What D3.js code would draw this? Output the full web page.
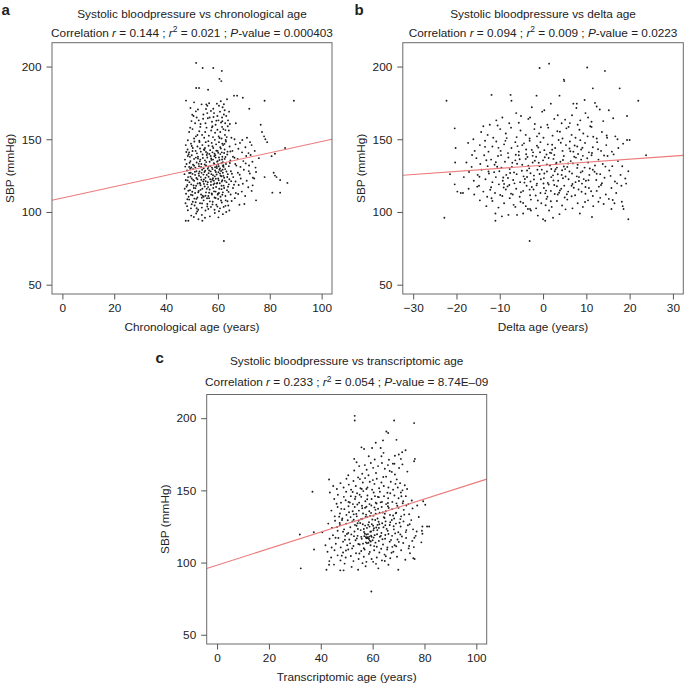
<!DOCTYPE html>
<html>
<head>
<meta charset="utf-8">
<script src="https://cdn.jsdelivr.net/npm/d3@7"></script>
<style>
  html, body { margin: 0; padding: 0; background: #fff; }
  svg { display: block; }
  text { font-family: "Liberation Sans", Arial, Helvetica, sans-serif; fill: #222; }
</style>
</head>
<body>
<svg id="chart" width="685" height="685"></svg>
<script>
// ---------------- DATA ----------------
const xTicksAge = [0, 20, 40, 60, 80, 100];
const xTicksDelta = [-30, -20, -10, 0, 10, 20, 30];
const yTicks = [50, 100, 150, 200];

const panelLabels = ["a", "b", "c"];
const titles = [
  "Systolic bloodpressure vs chronological age",
  "Systolic bloodpressure vs delta age",
  "Systolic bloodpressure vs transcriptomic age"
];
const xTitles = ["Chronological age (years)", "Delta age (years)", "Transcriptomic age (years)"];
const yTitle = "SBP (mmHg)";
const corrR = ["0.144", "0.094", "0.233"];
const corrR2 = ["0.021", "0.009", "0.054"];
const corrP = ["0.000403", "0.0223", "8.74E\u201309"];

// regression lines: [intercept, slope]
const fitA = [109.6, 0.389];
const fitB = [132.1, 0.211];
const fitC = [98.2, 0.573];

// panel a: [chronological age, SBP]
const panelA = [
[51.6,202.5],[54.1,199],[58.2,199],[61.5,197],[60.6,191.5],[61.3,190],[51.6,185.3],[52.7,185.3],[56.2,184],[47.7,176.6],[50.8,175.4],[66.2,180],[67.4,180],[69.6,178.5],[72.1,171],[78,176.5],[89.3,176.5],[76.5,160],[77,155],[77.8,152],[78.3,150],[79,148],[80.7,138.4],[82,140],[85.9,144],[81.5,127],[82,125],[82.6,124],[84,122],[86.8,120],[81,113.3],[84,113.3],[74.7,108],[68.3,105],[62.3,80],[47.6,94],[48.6,94],[52.5,95],[54,94],[55,96],[60.2,96.3],[64.4,101],[78,124],[74,123],
[53.7,174],[55.5,174],[55.9,173],[58.2,171],[59.6,174.5],[60.4,173],[61.8,172],[62.6,170],[63.5,177.5],[57.3,169.5],[52.3,170.5],[49.4,171.5],
[50.6,166],[51.8,165],[52.6,163],[54.4,167],[55.9,168],[56.8,165],[58.5,168],[59.8,166],[60.8,169],[61.6,165],[62.3,167],[63.2,166],[63.9,163],[64.3,169],[60.2,163],[57.7,162],[55.2,161],[53.3,160.5],[51.2,161],[49.3,158],[56.1,164.5],[61.2,161.5],[62.8,161],[64.6,160.5],[59.1,160],[66.9,161],[49.8,162.5],
[48.9,155],[50.2,157],[51.5,152],[52.8,155.5],[53.9,153],[54.7,151],[55.6,158],[56.5,152.5],[57.4,156],[58.1,151.5],[58.9,154.5],[59.8,156.5],[60.3,152],[60.9,155],[61.4,150.5],[62.1,157],[62.7,153],[63.4,151.5],[64.2,156],[65.2,151],[57.9,159],[53.2,158.5],[50.8,150.5],[55.1,155],[61.6,158.5],[63,149.5],[71.2,151],[72.4,148],[69.4,149.5],[66.4,150],
[47.6,146],[48.3,143],[48.9,141],[49.6,147],[50.3,144],[50.9,148.5],[51.4,142],[52.1,145],[52.8,149],[53.4,141.5],[54,146],[54.6,143],[55.3,148],[55.9,140.5],[56.4,145.5],[57,142.5],[57.6,147.5],[58.2,144],[58.7,140],[59.3,146.5],[59.9,142],[60.4,148],[60.9,144.5],[61.5,141],[62,146],[62.6,143],[63.1,148.5],[63.7,141.5],[64.5,145],[65.6,142],[66.8,146.5],[67.9,143.5],[69.3,141],[70.6,144.5],[71.8,140.5],[73,146],[74.2,142],[68.5,147.5],[55,144],[57.9,141],[61.7,147],
[47.3,136],[47.9,133],[48.4,138.5],[48.9,131],[49.4,135],[49.9,139],[50.4,132.5],[50.8,136.5],[51.3,130.5],[51.8,134],[52.3,138],[52.7,131.5],[53.2,136],[53.6,133],[54.1,139.5],[54.5,130],[55,135.5],[55.4,132],[55.9,137.5],[56.3,131],[56.8,134.5],[57.2,138.5],[57.7,130.5],[58.1,136],[58.6,133],[59,139],[59.5,131.5],[59.9,135],[60.4,137.5],[60.8,130],[61.3,133.5],[61.7,138],[62.2,131],[62.6,136.5],[63.1,133],[63.6,139.5],[64.2,131.5],[64.8,135.5],[65.8,138],[66.7,133],[67.6,136.5],[68.7,131],[69.8,135],[70.9,138.5],[72,132],[73.3,134.5],[74.5,130.5],[75.8,137],[53,134.8],[57.5,135.8],[60.1,132.8],[61.9,134.3],[49.7,130.6],[55.7,139.2],[58.9,130.8],[62.9,137.8],
[47.1,126],[47.6,122],[48.1,128.5],[48.5,124],[49,120.5],[49.5,127],[49.9,123],[50.4,129.5],[50.8,121.5],[51.2,125.5],[51.7,128],[52.1,122.5],[52.6,126.5],[53,120],[53.4,124],[53.9,129],[54.3,121],[54.8,127.5],[55.2,123.5],[55.7,125.5],[56.1,120.5],[56.6,128.5],[57,122.5],[57.5,126],[57.9,129.5],[58.4,121.5],[58.8,124.5],[59.2,127.5],[59.7,120],[60.1,123],[60.6,129],[61,125],[61.5,121],[61.9,127],[62.4,123.5],[62.8,129.5],[63.3,120.5],[63.8,126],[64.4,122.5],[65,128],[65.9,124],[66.8,121],[67.7,127],[68.8,123],[70,129],[71.1,121.5],[72.3,126.5],[73.5,123.5],[74.7,127.5],[52.9,127.8],[56.4,124.2],[59.5,125.8],[61.2,128.2],[54.6,122.3],[58.1,123.2],[60.3,121.8],[62.1,124.8],[50.2,126.2],[57.3,120.8],
[47.2,116],[47.7,112.5],[48.2,118.5],[48.7,110.5],[49.2,115],[49.7,119],[50.2,111.5],[50.7,116.5],[51.2,113],[51.6,118],[52.1,110],[52.6,114.5],[53.1,119.5],[53.5,112],[54,116],[54.5,110.5],[54.9,117.5],[55.4,113.5],[55.9,119],[56.3,111],[56.8,115.5],[57.3,118.5],[57.7,112],[58.2,116.5],[58.7,110],[59.1,114],[59.6,119.5],[60,112.5],[60.5,116],[61,110.5],[61.4,118],[61.9,113.5],[62.4,116.5],[62.9,111],[63.5,115],[64.2,119],[64.9,112],[65.8,116.5],[66.9,113],[68,118.5],[69.2,114],[70.5,111],[71.7,117],[73,114.5],[53.3,115.2],[56.6,113.2],[59.3,117.2],[61.7,111.8],[55.2,111.2],[58.5,114.2],
[47.5,106],[48.1,104],[48.9,108.5],[49.6,102.5],[50.3,107],[51,104.5],[51.7,109],[52.4,101.5],[53.1,106],[53.8,103],[54.5,108],[55.2,101],[55.9,105.5],[56.6,109.5],[57.3,103.5],[58,107],[58.7,101.5],[59.4,105],[60.1,109],[60.8,102.5],[61.5,106.5],[62.2,103.5],[63,108],[64,104.5],[65.3,107.5],[66.5,109.5],[70.2,105.5],[60.4,100.5],[56.3,102],[52,100.3],
[49.7,97.5],[51.6,99],[53.8,98],[56.9,97],[58.8,99.3],[61.9,98.5],[63.2,100],[50.7,96.5],
[48.3,121.7],[49.1,133.9],[50.6,118.2],[51.9,140.3],[52.4,113.6],[53.7,126.9],[54.2,137.1],[55.8,109.4],[56.1,129.7],[57.9,145.2],[58.3,118.9],[59.7,134.6],[60.2,127.3],[60.9,139.8],[61.4,115.7],[62.1,132.2],[62.7,121.4],[61.1,143.6],[59.2,122.9],[58.6,138.4],[57.1,131.7],[56.9,107.3],[55.3,121.1],[54.8,142.6],[53.3,118.4],[52.6,133.1],[51.1,127.6],[50.1,113.9],[49.4,124.3],[48.7,139.7],[47.9,117.4],[48.2,108.8],[49.9,145.4],[51.4,106.7],[52.9,148.1],[54.1,111.2],[55.5,134.3],[56.7,139.9],[57.6,112.7],[58.9,128.6],[59.9,111.9],[60.6,135.7],[61.8,129.1],[62.4,140.6],[63.3,127.8],[63.9,117.3],[64.6,133.7],[61.3,124.6],[60.7,119.8],[59.4,142.1],[58.1,125.3],[57.4,136.8],[56.2,117.1],[55.1,128.4],[54.4,125.7],[53.5,130.9],[52.2,119.6],[51.5,137.4],[50.4,122.1],[49.3,129.8],[48.6,114.6],[47.4,131.2],[60.1,140.7],[61.6,136.1],[59.6,130.2],[58.4,133.6],[60.8,126.4],[61.9,131.6],[59.1,137.4],[57.8,122.2],[56.4,126.7],[55.7,115.9],[54.6,119.3],[53.8,109.8],[52.7,124.9],[51.3,116.3],[50.8,131.8],[50.2,141.9],[49.6,111.8],[53.1,143.7],[56.3,148.7],[58.8,149.6],[62.5,146.8],[63.6,124.1],[64.1,113.8],[65.4,126.3],[66.2,118.7],[67.1,131.9],[68.4,125.6],[69.6,119.4],[70.7,133.4],[71.9,128.1],[73.4,118.3],[72.6,139.2],[67.8,112.4],[66.4,137.3],[65.1,121.2],[64.8,141.6],[63.7,107.4],[62.9,104.2],[61.2,107.9],[59.8,103.7],[57.9,105.2],[55.9,103.8],[53.9,105.9],[51.8,102.6],[49.9,105.3],[48.4,101.2],[60.4,113.1],[59.1,109.6],[61.7,121.9],[62.2,118.1],[60.3,131.4],[58.7,119.7],[57.2,127.9],[55.4,141.3],[54.9,132.6],[53.6,122.2],[52.3,136.7],[51.7,123.4],[50.9,109.2],[49.2,137.9],[48.9,126.8],[47.8,141.2],[57.7,158.2],[59.4,162.8],[61.7,162.4],[62.9,156.3],[60.6,150.9],[54.3,164.1],[52.1,152.9],[50.1,166.9],[48.4,149.3],[63.8,158.9],[58.3,165.3],[55.4,170.8],[61.1,176.2],[62.3,174.1],[56.6,174.8],[51.5,169.2]
];

// panel b: [delta age, SBP]
const panelB = [
[-22.3,176.5],[-22.8,96],[-20.4,157.5],[-20.2,144],[-20.3,134],[-20.4,119],[-19.8,114],[-21.5,126],[-11.9,180.5],[-7.5,180.5],[-7.3,176.5],[-0.8,199],[1.4,202],[10.2,199.3],[14.3,197],[4.8,191],[4.9,190],[11.5,185],[17.7,185],[22,176.5],[-3.1,80],[19.7,95],[23.8,139],[19.4,166],[19.4,149.5],[20,149.5],[19.7,128],[19.2,119.5],[18.2,107],[18.4,104],[18.6,102],[15.8,102],[-11,99],[-11,94],[-8,98],[-6,98],[-3,102],[-2.8,101],[0,95],[0.5,94],[2.3,96],[-1.5,180],[3.8,180],[7,174.5],[7.8,174.5],[9.6,177],[12,175],[-3,165],[-18.5,113],[-19,113],
[-12.3,160],[-10.8,163],[-9.4,165],[-6.2,168],[-5.1,166],[-3.4,164],[-1.9,160.5],[-0.2,169],[0.3,170],[1.8,174.5],[2.6,164],[3.4,166.5],[4.3,161],[5.1,163.5],[5.9,158.5],[7.7,171.5],[8.6,163],[9.8,168],[10.4,165],[11.2,162],[12.4,172.5],[13.1,170.5],[13.9,162.5],[15.2,170],[16.2,164.5],[-7.8,161],[-13.8,159],[6.7,166.5],[1,160],[-2.6,172],
[-16.1,150],[-14.3,155],[-12.8,153],[-11.5,151],[-9.9,157],[-8.6,154],[-7.4,158],[-6.1,151.5],[-5.2,156],[-4,153],[-3.1,150.5],[-2,157],[-0.9,154],[0.1,151],[1.2,158],[2.2,152.5],[3.3,155.5],[4.5,150.5],[5.4,157.5],[6.6,153],[7.5,151],[8.4,156.5],[9.3,154],[10.3,152],[11.2,158.5],[12.4,150.5],[13.6,155],[14.8,151],[16.7,152],[17.2,150],[-10.5,159.5],[8,160],[-1.4,152],
[-15.8,142],[-14.6,146],[-13.4,149],[-12.6,141.5],[-11.7,145],[-10.8,148.5],[-9.8,142],[-9,146.5],[-8.1,140.5],[-7.3,144],[-6.4,148],[-5.6,141.5],[-4.8,146],[-3.9,143],[-3.1,149],[-2.3,141],[-1.4,145.5],[-0.6,148],[0.3,142.5],[1.1,146.5],[1.9,140.5],[2.8,144],[3.6,149.5],[4.5,142],[5.3,146],[6.2,148.5],[7,141.5],[7.9,145],[8.8,143],[9.7,147.5],[10.6,141],[11.5,144.5],[12.5,148],[13.4,142],[14.6,146],[15.9,141.5],[17.4,144],[18.5,147],[-17.3,147.5],[-4.4,147.2],[2.1,142.8],[6.1,143.6],
[-17.7,134],[-16.5,131],[-15.4,137],[-14.5,133],[-13.6,139],[-12.8,131.5],[-12,136],[-11.2,132.5],[-10.4,138.5],[-9.6,130.5],[-8.8,134.5],[-8,137.5],[-7.2,131],[-6.4,135.5],[-5.6,139],[-4.8,132.5],[-4,136.5],[-3.2,130],[-2.4,134],[-1.6,138],[-0.8,131.5],[0,135.5],[0.8,139.5],[1.6,132],[2.4,136.5],[3.2,130.5],[4,134.5],[4.8,138.5],[5.6,131],[6.4,135],[7.2,138],[8,132.5],[8.8,136],[9.6,130.5],[10.4,134],[11.2,139],[12,132],[12.8,136],[13.8,133],[14.9,138.5],[16,131.5],[17.3,135],[-1,133.8],[3,133],[6.9,133.4],[-6,133.2],[1.3,137.1],[-3.6,137.8],[9.2,138.6],[-10.9,134.2],
[-18.3,124],[-17.1,127.5],[-16,121.5],[-15.1,125.5],[-14.2,129],[-13.3,122.5],[-12.5,126.5],[-11.7,120.5],[-10.9,124],[-10.1,128],[-9.3,121.5],[-8.5,125.5],[-7.7,129.5],[-6.9,122],[-6.1,126],[-5.3,120.5],[-4.5,124.5],[-3.7,128.5],[-2.9,121],[-2.1,125],[-1.3,129],[-0.5,122.5],[0.3,126.5],[1.1,120],[1.9,124],[2.7,128],[3.5,121.5],[4.3,125.5],[5.1,129.5],[5.9,122.5],[6.7,126.5],[7.5,120.5],[8.3,124],[9.1,128],[9.9,121.5],[10.7,125.5],[11.5,129],[12.3,122],[13.2,126],[14.2,123.5],[15.3,128.5],[16.6,121],[17.9,125.5],[19,123],[0.9,127.8],[-4.2,122.7],[4.6,123.2],[-8.1,123.4],[8.7,127.2],[2.3,125.2],
[-17.2,116],[-15.9,112],[-14.8,118],[-13.8,114],[-12.9,110.5],[-12,117],[-11.1,113],[-10.2,119],[-9.4,111],[-8.6,115.5],[-7.8,118.5],[-7,112],[-6.2,116],[-5.4,110.5],[-4.6,114.5],[-3.8,118],[-3,111.5],[-2.2,115.5],[-1.4,119.5],[-0.6,113],[0.2,116.5],[1,110.5],[1.8,114.5],[2.6,118.5],[3.4,112],[4.2,116],[5,110],[5.8,114],[6.6,118],[7.4,111.5],[8.2,115.5],[9,119.5],[9.8,112.5],[10.6,116.5],[11.5,111],[12.4,114.5],[13.4,118.5],[14.5,112],[15.8,116.5],[16.9,113],[18.1,118],[0.5,112.8],[-2.6,117.2],[3.9,114.8],[-9.1,116.8],
[-14.6,108],[-13.1,104],[-11.7,107.5],[-10.3,103],[-9,106],[-7.7,109.5],[-6.4,103.5],[-5.2,107],[-4,104],[-2.8,108.5],[-1.6,102.5],[-0.4,106],[0.8,109],[2,103.5],[3.2,107.5],[4.4,104.5],[5.6,108.5],[6.8,102.5],[8,106],[9.2,103.5],[10.4,108],[11.6,104],[12.8,107],[14,105.5],[15.2,109],[16.5,106],[-3.5,102],[1.4,101],
[-9.5,97],[-4.6,99],[-1.2,97.5],[3.8,98.5],[8.5,99],[11.3,96.5],
[-11.3,127.4],[-9.7,139.1],[-8.2,117.6],[-7.1,133.8],[-5.9,145.3],[-4.3,120.2],[-3.4,131.9],[-2.6,142.7],[-1.7,111.3],[-0.8,126.1],[0.4,137.6],[1.3,118.9],[2.1,146.2],[2.9,129.4],[3.7,113.2],[4.6,135.7],[5.2,124.4],[6.3,141.8],[7.1,116.7],[7.9,130.3],[8.6,149.4],[9.4,122.6],[10.2,136.9],[11.1,114.3],[11.9,127.7],[12.7,143.1],[13.6,119.8],[14.4,131.2],[15.6,124.8],[16.3,139.6],[-13.4,144.8],[-12.2,115.3],[-10.6,131.1],[-9.2,123.7],[-8.7,148.9],[-6.7,127.2],[-5.1,113.6],[-3.9,139.7],[-2.1,122.4],[-1.1,144.3],[0.1,119.6],[0.9,132.7],[1.8,107.4],[2.6,139.2],[3.4,125.9],[4.1,147.6],[4.9,118.1],[5.8,133.3],[6.6,110.8],[7.6,137.4],[8.3,121.3],[9.1,144.2],[9.8,117.2],[10.8,129.9],[11.6,151.7],[12.4,126.3],[13.2,109.7],[14.1,138.8],[-14.7,124.2],[-13.1,135.6],[-11.9,109.4],[-10.3,144.1],[-9,119.3],[-7.6,126.8],[-6.3,139.4],[-4.9,128.3],[-3.1,115.4],[-1.9,135.2],[-0.3,129.1],[0.7,114.7],[1.6,140.8],[2.4,121.7],[3.1,133.9],[4.4,128.7],[5.5,112.2],[6.1,127.8],[7.3,145.7],[8.9,113.9],[10.5,121.8],[11.3,140.6],[12.9,117.4],[-2.9,126.6],[-4.6,106.2],[-7.4,112.6],[-9.9,111.7],[-12.6,127.9],[-15.2,117.4],[-16.4,139.2],[17.1,119.7],[18.3,131.4],[16.1,108.2],[14.7,152.6],[3.9,155.2],[-0.5,158.3],[-5.6,161.4],[6.2,161.1],[10.9,158.9],[-8.4,150.8],[0.6,104.6],[-6.8,104.9],[5.2,101.8],[9.7,106.9],[-1.5,118.3],[1.9,129.6],[-2.4,138.6],[3.2,117.7],[-0.7,141.1],[4.8,131.3],[-3.7,124.1],[2.7,112.4],[0.2,123.3],[-1.2,107.9],[7.8,124.5],[6.8,119.2],[8.1,139.9],[-5.4,136.3],[-6.6,119.7]
];

// panel c: [transcriptomic age, SBP]
const panelC = [
[32.3,96],[31.9,119.4],[36.8,149],[37.3,121],[37.4,109],[53.1,201.6],[53.1,198.4],[68.3,198.4],[76,196.6],[65.3,190.8],[66,189.7],[64,184.6],[69.2,185],[61.2,183],[59.5,80],
[55.7,179.8],[56.7,178.7],[59.8,179.3],[58.5,173.6],[52.9,171.8],[64.2,176],[63.4,173.6],[68.6,174],[70.1,174.8],[71.4,176.4],[72.7,177.8],[70.9,171.8],[76,170.2],[76.3,171.8],
[52.9,163.8],[54.8,166.8],[57,167.5],[59.3,169],[60.2,165.6],[62.1,166.8],[64.7,165],[66.6,163.4],[68.6,161],[70.2,165.5],[71.5,168],[56,161.5],[58.4,160.5],[61.3,162],[63.6,169],[65.9,167.5],[67.8,168.5],[73.4,163],[50.6,160.5],[53.8,169.5],
[43.2,157.5],[47.6,155],[48.8,152],[49.9,158],[50.8,154],[51.7,150.5],[52.6,156.5],[53.5,153],[54.4,159],[55.3,151.5],[56.2,155.5],[57.1,158.5],[58,152],[58.9,156],[59.8,150.5],[60.7,154.5],[61.6,158],[62.5,151.5],[63.4,155.5],[64.3,153],[65.2,159.5],[66.1,152],[67,156],[67.9,150.5],[68.8,154.5],[69.7,152],[70.6,155],[71.5,150],[72.4,153.5],[73.3,151],[46.2,151],[44.8,153],[57.6,151],
[43.5,148.5],[45.2,144],[46.6,147],[47.8,141.5],[48.9,145.5],[49.8,149],[50.7,142],[51.6,146],[52.4,140.5],[53.2,144],[54,148],[54.8,141.5],[55.6,145.5],[56.4,149.5],[57.2,142.5],[58,146.5],[58.8,140.5],[59.6,144],[60.4,148.5],[61.2,141.5],[62,145.5],[62.8,149],[63.6,142],[64.4,146],[65.2,140.5],[66,144.5],[66.8,148],[67.6,142],[68.4,146.5],[69.2,141],[70,144.5],[70.9,148.5],[71.8,142.5],[72.8,146],[73.8,140.5],[75.1,143],[79.5,142.5],[55,147],[60.9,146],
[44.1,136],[45.4,132],[46.5,138.5],[47.4,134],[48.3,130.5],[49.1,137],[49.9,133],[50.7,139],[51.5,131.5],[52.3,135.5],[53.1,138.5],[53.9,132],[54.7,136],[55.5,130],[56.3,134],[57.1,138],[57.9,131.5],[58.7,135.5],[59.5,139.5],[60.3,132.5],[61.1,136.5],[61.9,130.5],[62.7,134.5],[63.5,138.5],[64.3,131.5],[65.1,135.5],[65.9,139],[66.7,133],[67.5,137],[68.3,130.5],[69.1,134.5],[70,138],[71,132],[72,136.5],[73,139.5],[74.1,133.5],[75.4,137.5],[77.2,139.5],[52.7,133.4],[57.5,133.2],[60.7,138.2],[64.7,133.8],[56,137.6],[59,132.2],
[40.6,121],[42.9,127],[44.3,124],[45.5,129],[46.5,122],[47.4,126],[48.2,129.5],[49,123],[49.8,127],[50.6,120.5],[51.4,124.5],[52.2,128.5],[53,121.5],[53.8,125.5],[54.6,129],[55.4,122.5],[56.2,126.5],[57,120],[57.8,124],[58.6,128],[59.4,121.5],[60.2,125.5],[61,129.5],[61.8,122.5],[62.6,126.5],[63.4,120.5],[64.2,124.5],[65,128.5],[65.8,122],[66.6,126],[67.4,129.5],[68.2,123],[69,127],[69.9,121],[70.8,125],[71.9,128.5],[73,122.5],[74.3,126.5],[75.6,123],[77,121.5],[60.5,123.8],[58.3,126.2],[62.4,124],[56.6,123.2],[54.2,127.2],[64.9,125.8],
[41.8,112],[43.4,116.5],[44.7,119],[45.8,113],[46.8,117],[47.7,110.5],[48.6,114.5],[49.4,118.5],[50.2,112],[51,116],[51.8,119.5],[52.6,111.5],[53.4,115.5],[54.2,118.5],[55,112.5],[55.8,116.5],[56.6,110],[57.4,114],[57.9,117.5],[58.3,116.8],[58.7,118],[59.2,112],[60,115.5],[60.8,119],[61.6,111],[62.4,115],[63.2,118.5],[64,112.5],[64.8,116.5],[65.7,110.5],[66.6,114.5],[67.5,118.5],[68.5,112],[69.6,116],[70.7,119.5],[71.8,113.5],[72.9,117],[74.1,111.5],[75.3,115],[76.6,118.5],[57.6,116.8],[58.9,115.2],[56.8,118.3],[59.6,117.9],
[42.6,107.5],[44,103.5],[45.3,108.5],[46.5,105],[47.6,101.5],[48.6,107],[49.6,103.5],[50.6,109],[51.6,104.5],[52.6,101],[53.6,106.5],[54.6,102.5],[55.6,108],[56.6,104],[57.6,100.5],[58.6,106],[59.6,102.5],[60.6,108.5],[61.6,103.5],[62.6,107],[63.6,101.5],[64.6,105.5],[65.6,109],[66.8,103],[68,107.5],[69.4,104],[71,108.5],[72.6,102],[74.4,106.5],[43.3,101],[60.2,100.5],
[42.2,95],[43.2,98.5],[47.5,94.6],[48.8,94.6],[51.9,97],[54.4,95],[57.3,97.5],[62.2,96],[66.1,98.5],[69.9,95],[75.7,103],[76.2,102.5],
[79.2,125],[81,125],[81.8,125],[78.8,114],[79.2,120],[79,122],[80.3,140],
[46.3,124.7],[47.9,137.2],[49.3,115.8],[50.4,129.3],[51.2,141.6],[52.8,118.3],[53.7,133.7],[54.5,112.9],[55.2,127.4],[55.9,139.3],[56.7,121.2],[57.3,131.6],[57.8,113.4],[58.2,119.7],[58.8,124.9],[59.3,114.6],[59.9,129.8],[60.4,117.3],[61.2,133.9],[61.7,119.6],[62.3,128.3],[63.1,141.7],[63.8,116.2],[64.6,130.9],[65.4,123.3],[66.2,137.8],[67.1,115.7],[67.9,132.6],[68.7,120.2],[69.5,139.4],[70.4,127.6],[71.3,118.1],[72.2,133.2],[73.6,125.8],[48.6,121.4],[50.9,134.8],[52.1,109.8],[53.2,126.1],[54.1,140.2],[55.6,117.8],[56.3,113.1],[57.1,125.6],[57.6,119.4],[58.4,113.7],[59.1,121.3],[59.7,126.6],[60.6,111.4],[61.4,124.3],[62.1,137.3],[62.8,117.9],[63.7,127.2],[64.9,119.1],[65.9,141.3],[66.8,127.9],[67.6,110.9],[68.9,134.1],[70.1,114.3],[71.6,141.1],[45.7,117.2],[47.1,131.8],[44.2,110.4],[49.7,108.4],[51.3,113.3],[54.9,106.3],[56.9,109.1],[58.9,107.4],[61.1,113.8],[63.3,109.6],[65.1,104.4],[67.3,106.8],[69.1,111.3],[53.4,145.6],[55.8,150.9],[57.9,143.9],[60.1,157.1],[62.4,145.3],[64.1,159.3],[65.7,148.4],[67.4,162.8],[69.3,157.6],[71.1,145.9],[66.3,171.2],[63.1,179.3],[68.4,168.4],[60.8,171.4],[57.7,164.3],[55.1,157.8],[52.3,148.9],[49.6,143.2],[47.3,127.4],[46.1,140.7],[58.1,117.1],[58.6,116.3],[59.4,118.6],[57.4,117.6],[60.3,122.4],[56.1,130.4],[61.9,126.1],[63.9,134.7],[54.3,123.3],[52.7,129.7],[66.1,119.8],[68.1,125.1],[70.7,130.1],[72.8,121.1],[74.9,129.4],[76.1,117.2],[77.8,131.6],[73.9,109.8],[75.9,110.7],[59.4,134.4],[61.5,140.9],[57.6,138.7],[53.9,116.7],[50.1,119.8],[48.1,104.8],[45.1,98.6],[49.2,99.3],[56.1,99.6],[61.3,99.1],[64.7,101.1]
];

// ---------------- DRAWING ----------------
const svg = d3.select("#chart");

const panels = [
  { data: panelA, fit: fitA, xDomain: [-4, 104], xTicks: xTicksAge,
    box: { x0: 52, x1: 332, y0: 42.7, y1: 294 },
    labelPos: [1.5, 14.5], titleY: 17.7, corrY: 36.5 },
  { data: panelB, fit: fitB, xDomain: [-32.4, 32.4], xTicks: xTicksDelta,
    box: { x0: 402.8, x1: 683.3, y0: 42.7, y1: 294 },
    labelPos: [354.5, 14.7], titleY: 17.7, corrY: 36.5 },
  { data: panelC, fit: fitC, xDomain: [-4, 104], xTicks: xTicksAge,
    box: { x0: 206.7, x1: 486.7, y0: 394.5, y1: 644 },
    labelPos: [155.5, 362.7], titleY: 365, corrY: 386 }
];

const FS = 11.8;

panels.forEach((p, i) => {
  const b = p.box;
  const x = d3.scaleLinear().domain(p.xDomain).range([b.x0, b.x1]);
  const y = d3.scaleLinear().domain([43.6, 216.4]).range([b.y1, b.y0]);
  const g = svg.append("g");

  // points
  g.append("g").selectAll("circle")
    .data(p.data)
    .join("circle")
    .attr("cx", d => x(d[0]))
    .attr("cy", d => y(d[1]))
    .attr("r", 0.95)
    .attr("fill", "#1c1c1c");

  // regression line
  const xs = p.xDomain;
  g.append("line")
    .attr("x1", x(xs[0])).attr("y1", y(p.fit[0] + p.fit[1] * xs[0]))
    .attr("x2", x(xs[1])).attr("y2", y(p.fit[0] + p.fit[1] * xs[1]))
    .attr("stroke", "#ec7a7a")
    .attr("stroke-width", 1.1);

  // box
  g.append("rect")
    .attr("x", b.x0).attr("y", b.y0)
    .attr("width", b.x1 - b.x0).attr("height", b.y1 - b.y0)
    .attr("fill", "none").attr("stroke", "#6a6a6a").attr("stroke-width", 1);

  // axes
  const xAxis = d3.axisBottom(x).tickValues(p.xTicks).tickSize(5.5).tickPadding(6);
  const gx = g.append("g").attr("transform", `translate(0,${b.y1})`).call(xAxis);
  gx.select(".domain").remove();
  gx.selectAll(".tick line").attr("stroke", "#555");
  gx.selectAll(".tick text")
    .attr("font-size", FS).attr("font-family", "Liberation Sans, Arial, sans-serif")
    .attr("fill", "#222").attr("y", 17.5).attr("dy", 0);

  const yAxis = d3.axisLeft(y).tickValues(yTicks).tickSize(5.5).tickPadding(5);
  const gy = g.append("g").attr("transform", `translate(${b.x0},0)`).call(yAxis);
  gy.select(".domain").remove();
  gy.selectAll(".tick line").attr("stroke", "#555");
  gy.selectAll(".tick text")
    .attr("font-size", FS).attr("font-family", "Liberation Sans, Arial, sans-serif")
    .attr("fill", "#222");

  const cx = (b.x0 + b.x1) / 2;
  const cy = (b.y0 + b.y1) / 2;

  // axis titles
  g.append("text")
    .attr("x", cx).attr("y", b.y1 + 37)
    .attr("text-anchor", "middle").attr("font-size", FS)
    .text(xTitles[i]);
  g.append("text")
    .attr("transform", `translate(${b.x0 - 42},${cy}) rotate(-90)`)
    .attr("text-anchor", "middle").attr("dominant-baseline", "central")
    .attr("font-size", FS)
    .text(yTitle);

  // titles
  g.append("text")
    .attr("x", cx).attr("y", p.titleY)
    .attr("text-anchor", "middle").attr("font-size", FS)
    .text(titles[i]);

  const ct = g.append("text")
    .attr("x", cx).attr("y", p.corrY)
    .attr("text-anchor", "middle").attr("font-size", FS);
  ct.append("tspan").text("Correlation ");
  ct.append("tspan").attr("font-style", "italic").text("r");
  ct.append("tspan").text(" = " + corrR[i] + " ; ");
  ct.append("tspan").attr("font-style", "italic").text("r");
  ct.append("tspan").attr("font-size", 8.5).attr("dy", -4.5).text("2");
  ct.append("tspan").attr("dy", 4.5).text(" = " + corrR2[i] + " ; ");
  ct.append("tspan").attr("font-style", "italic").text("P");
  ct.append("tspan").text("-value = " + corrP[i]);

  // panel letter
  g.append("text")
    .attr("x", p.labelPos[0]).attr("y", p.labelPos[1])
    .attr("font-size", 15).attr("font-weight", "bold")
    .text(panelLabels[i]);
});
</script>
</body>
</html>
